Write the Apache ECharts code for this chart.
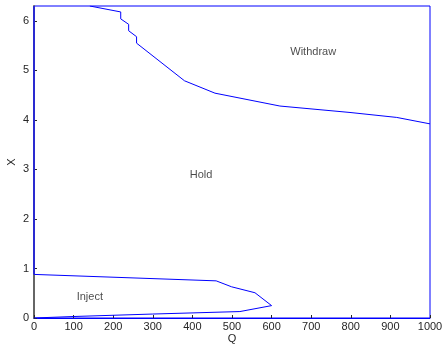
<!DOCTYPE html>
<html>
<head>
<meta charset="utf-8">
<script src="https://cdn.jsdelivr.net/npm/echarts@6/dist/echarts.min.js"></script>
<style>
	html, body { margin: 0; padding: 0; background: #fff; }
	#chart { width: 443px; height: 346px; }
</style>
</head>
<body>
<div id="chart"></div>
<script>
// boundary Withdraw / Hold
var withdrawQ = [141, 219, 219, 239, 239, 259, 259, 380, 457, 621, 798, 916, 1000]
var withdrawX = [6.3, 6.18, 6.04, 5.93, 5.80, 5.68, 5.55, 4.79, 4.54, 4.28, 4.15, 4.05, 3.92]
// boundary Hold / Inject
var injectQ = [0, 460, 499, 558, 600, 520, 300, 100, 0]
var injectX = [0.88, 0.75, 0.63, 0.51, 0.25, 0.13, 0.08, 0.03, 0]
// left edge of the Hold region
var holdEdgeQ = [0, 0]
var holdEdgeX = [0.88, 6.3]
// region names
var regionNames = ['Withdraw', 'Hold', 'Inject']
var regionQ = [705, 422, 141]
var regionX = [5.37, 2.89, 0.42]

function pairs(xs, ys) {
	var out = []
	for (var i = 0; i < xs.length; i++) out.push([xs[i], ys[i]])
	return out
}

var chart = echarts.init(document.getElementById('chart'))
var font = 'Liberation Sans, Arial, sans-serif'

var lineStyle = { color: '#0000ff', width: 1 }

var option = {
	animation: false,
	grid: {
		left: 34, right: 13, top: 6, bottom: 28,
		containLabel: false,
		outerBoundsMode: 'none',
		show: true, borderColor: '#0000ff', borderWidth: 1,
	},
	xAxis: {
		type: 'value',
		min: 0, max: 1000, interval: 100,
		name: 'Q',
		nameLocation: 'middle',
		nameGap: 15,
		nameMoveOverlap: false,
		nameTextStyle: { color: '#262626', fontSize: 11, fontFamily: font },
		axisLine: { lineStyle: { color: '#0000ff', width: 1 } },
		axisTick: { inside: true, length: 3, lineStyle: { color: '#262626' } },
		axisLabel: {
			color: '#262626', fontSize: 11, fontFamily: font, margin: 3,
			formatter: function (v) { return String(v) },
		},
		splitLine: { show: false },
	},
	yAxis: {
		type: 'value',
		min: 0, max: 6.3, interval: 1,
		name: 'X',
		nameLocation: 'middle',
		nameRotate: 90,
		nameGap: 17,
		nameMoveOverlap: false,
		nameTextStyle: { color: '#262626', fontSize: 11, fontFamily: font },
		axisLine: { lineStyle: { color: '#666666', width: 2 } },
		axisTick: { inside: true, length: 3, lineStyle: { color: '#262626' } },
		axisLabel: {
			color: '#262626', fontSize: 11, fontFamily: font, margin: 5,
			showMaxLabel: false,
		},
		splitLine: { show: false },
	},
	series: [
		{
			type: 'line',
			data: pairs(withdrawQ, withdrawX),
			showSymbol: false,
			lineStyle: lineStyle,
		},
		{
			type: 'line',
			data: pairs(injectQ, injectX),
			showSymbol: false,
			lineStyle: lineStyle,
		},
		{
			type: 'line',
			data: pairs(holdEdgeQ, holdEdgeX),
			showSymbol: false,
			lineStyle: { color: '#2a2ad0', width: 2 },
		},
		{
			type: 'scatter',
			symbolSize: 0,
			data: regionNames.map(function (n, i) {
				return { name: n, value: [regionQ[i], regionX[i]] }
			}),
			label: {
				show: true,
				position: 'inside',
				formatter: '{b}',
				color: '#1a1a1a',
				fontSize: 11,
				fontFamily: font,
			},
		},
	],
}

option && chart.setOption(option)
</script>
</body>
</html>
